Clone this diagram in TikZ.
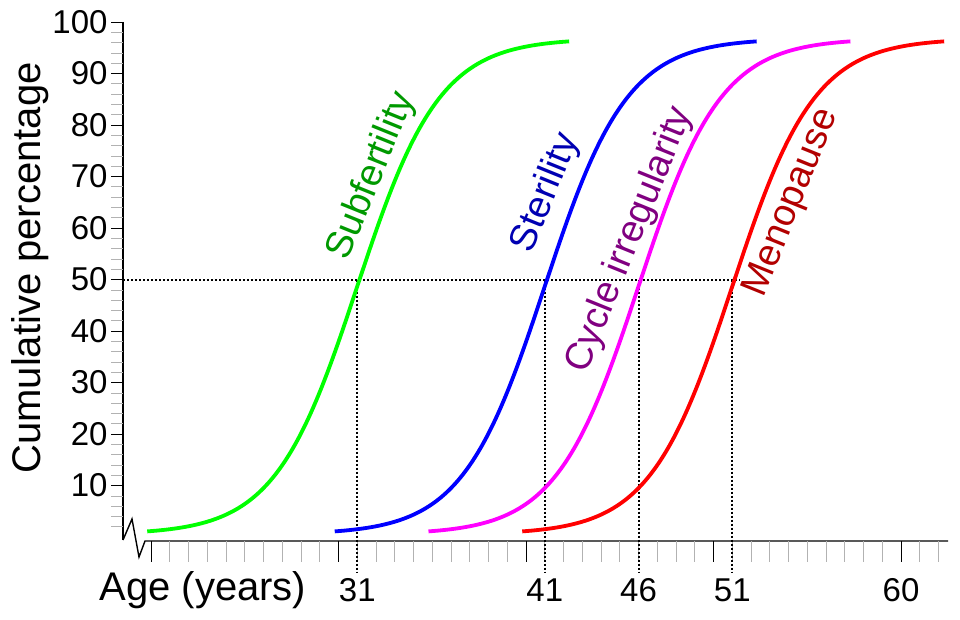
\documentclass[tikz,border=0pt]{standalone}
\usepackage{fontspec}
\setmainfont{Liberation Sans}
\definecolor{mag}{RGB}{255,0,255}
\definecolor{cycl}{RGB}{128,0,128}
\begin{document}
\begin{tikzpicture}[x=1pt,y=-1pt,
  crv/.style={line width=3.8pt},
  lbl/.style={font=\fontsize{38}{40}\selectfont,rotate=68},
  num/.style={font=\fontsize{33}{35}\selectfont},
  guide/.style={dotted,line width=2pt}]
\useasboundingbox (0,0) rectangle (960,620);
% y axis
\draw[line width=1.4pt] (123,22) -- (123,540);
\foreach \v in {2,4,...,98}{\draw[gray!60,line width=0.6pt] (111,{537-5.15*\v}) -- (123,{537-5.15*\v});}
\foreach \v in {10,20,...,100}{
  \draw[line width=0.8pt] (111,{537-5.15*\v}) -- (123,{537-5.15*\v});
  \node[num,anchor=east] (y\v) at (111,{537-5.15*\v}) {\v};}
\node[font=\fontsize{40}{42}\selectfont,rotate=90] (ylab) at (30,268) {Cumulative percentage};
% x axis
\draw[line width=1.4pt] (123,540) -- (132,519) -- (139,557) -- (145,541) -- (948,541);
\foreach \a in {20,...,62}{\draw[gray!60,line width=0.6pt] ({151+(\a-20)*18.75},541) -- ({151+(\a-20)*18.75},562);}
\foreach \a in {20,30,...,60}{\draw[line width=1pt] ({151+(\a-20)*18.75},541) -- ({151+(\a-20)*18.75},562);}
\node[font=\fontsize{40}{42}\selectfont] (xlab) at (203,590) {Age (years)};
\foreach \a in {31,41,46,51,60}{\node[num] (x\a) at ({151+(\a-20)*18.75},590) {\a};}
% guides
\coordinate (h0) at (123,279.5);
\coordinate (h1) at (740,279.5);
\draw[guide] (h0) -- (h1);
\foreach \a in {31,41,46,51}{\draw[guide] ({151+(\a-20)*18.75},279.5) -- ({151+(\a-20)*18.75},572);}
% curves
\foreach \m/\c in {31/green, 41/blue, 46/mag, 51/red}{
  \draw[crv,\c] plot[domain={\m-11.2}:{\m+11.3},samples=90,smooth]
   ({151+(\x-20)*18.75},{537-5.15*(0.5+96.3/(1+exp(-(\x-\m)/2.2)))});}
\node[lbl,text=green!60!black] (sub) at (372,176) {Subfertility};
\node[lbl,text=blue!70!black] (ste) at (546,193) {Sterility};
\node[lbl,text=cycl] (cyc) at (630,240) {Cycle irregularity};
\node[lbl,text=red!70!black] (men) at (792,203) {Menopause};
\end{tikzpicture}
\end{document}
